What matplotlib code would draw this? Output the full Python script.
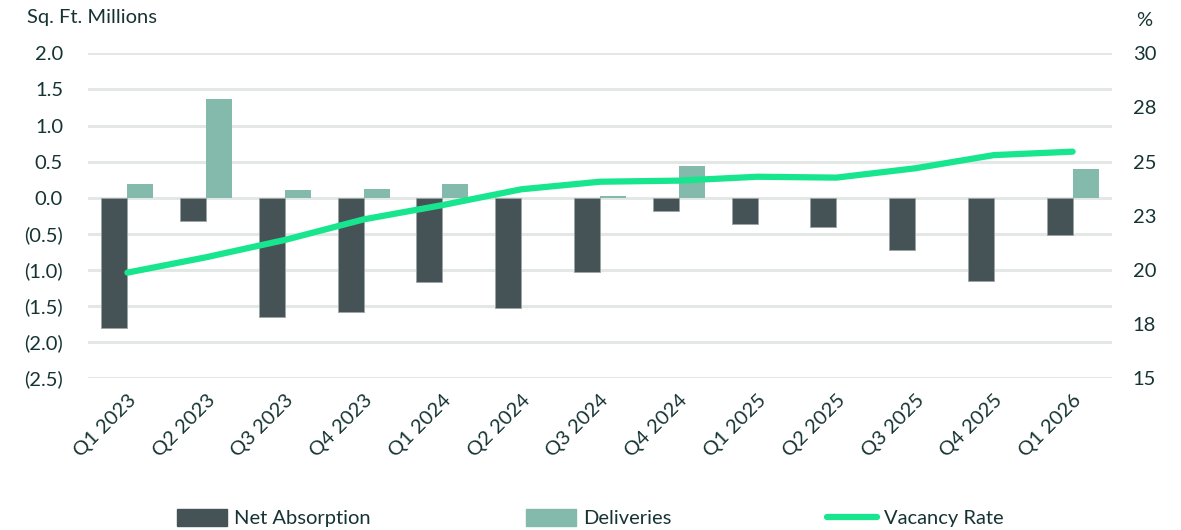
import numpy as np
import matplotlib.pyplot as plt
from matplotlib.patches import Patch
from matplotlib.lines import Line2D

quarters = ['Q1 2023', 'Q2 2023', 'Q3 2023', 'Q4 2023', 'Q1 2024', 'Q2 2024', 'Q3 2024',
            'Q4 2024', 'Q1 2025', 'Q2 2025', 'Q3 2025', 'Q4 2025', 'Q1 2026']
net_absorption = [-1.81, -0.32, -1.65, -1.58, -1.17, -1.53, -1.03, -0.19, -0.37, -0.40, -0.72, -1.16, -0.52]
deliveries = [0.19, 1.37, 0.11, 0.12, 0.19, 0.0, 0.03, 0.44, 0.0, 0.0, 0.0, 0.0, 0.40]
vacancy_rate = [19.87, 20.58, 21.38, 22.33, 22.99, 23.72, 24.07, 24.12, 24.30, 24.26, 24.69, 25.30, 25.46]

left_ticks = [2.0, 1.5, 1.0, 0.5, 0.0, -0.5, -1.0, -1.5, -2.0, -2.5]
left_labels = ['2.0', '1.5', '1.0', '0.5', '0.0', '(0.5)', '(1.0)', '(1.5)', '(2.0)', '(2.5)']
right_ticks = [15, 17.5, 20, 22.5, 25, 27.5, 30]
right_labels = ['15', '18', '20', '23', '25', '28', '30']

DARK = '#455357'
LIGHT = '#84BAAC'
GREEN = '#17E68F'
TEXT = '#163333'
GRID = '#E3E8E7'
FS = 14.5

plt.rcParams['font.family'] = ['Lato', 'DejaVu Sans']

fig = plt.figure(figsize=(11.81, 5.30), dpi=100)
ax = fig.add_axes([88 / 1181, 1 - 378 / 530, (1112 - 88) / 1181, (378 - 53.4) / 530])

x = np.arange(len(quarters))
w = 0.33
ax.bar(x - w / 2, net_absorption, w, color=DARK, edgecolor='#9aa5a5', linewidth=0.6, zorder=2)
ax.bar(x + w / 2, deliveries, w, color=LIGHT, linewidth=0, zorder=2)

ax.set_xlim(-0.5, len(quarters) - 0.5)
ax.set_ylim(-2.5, 2.0)
ax.set_yticks(left_ticks)
ax.set_yticklabels(left_labels)
ax.yaxis.grid(True, color=GRID, linewidth=2.2, zorder=0)
ax.set_axisbelow(True)
ax.set_xticks(x)
ax.set_xticklabels(quarters, rotation=45, ha='right', rotation_mode='anchor')
for s in ax.spines.values():
    s.set_visible(False)
ax.tick_params(axis='both', length=0, labelsize=FS, colors=TEXT)
ax.tick_params(axis='y', pad=18)
ax.tick_params(axis='x', pad=10)

ax2 = ax.twinx()
ax2.plot(x, vacancy_rate, color=GREEN, linewidth=4.5, solid_capstyle='round', zorder=3)
ax2.set_ylim(15, 30)
ax2.set_yticks(right_ticks)
ax2.set_yticklabels(right_labels)
for s in ax2.spines.values():
    s.set_visible(False)
ax2.tick_params(axis='y', length=0, labelsize=FS, colors=TEXT, pad=15)

fig.text(27 / 1181, 1 - 18 / 530, 'Sq. Ft. Millions', fontsize=FS, color=TEXT, va='center', ha='left')
fig.text(1144 / 1181, 1 - 20 / 530, '%', fontsize=FS, color=TEXT, va='center', ha='center')

handles = [Patch(color=DARK), Patch(color=LIGHT), Line2D([0], [0], color=GREEN, linewidth=4.5, solid_capstyle='round')]
fig.legend(handles, ['Net Absorption', 'Deliveries', 'Vacancy Rate'], loc='center',
           bbox_to_anchor=(0.5, 1 - 518 / 530), ncol=3, frameon=False, fontsize=FS,
           labelcolor=TEXT, handlelength=2.5, handleheight=0.9, handletextpad=0.35, columnspacing=7.7)

fig.savefig('out.png', dpi=100)
